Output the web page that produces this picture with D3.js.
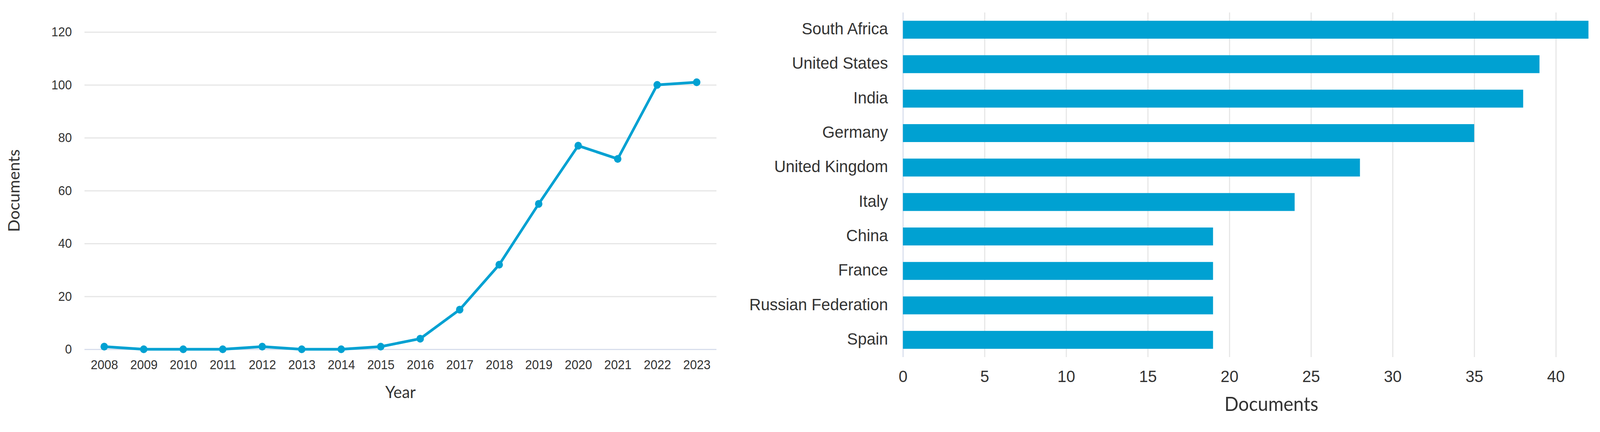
<!DOCTYPE html>
<html>
<head>
<meta charset="utf-8">
<script src="https://cdn.jsdelivr.net/npm/d3@7"></script>
<style>
	html, body { margin: 0; padding: 0; background: #fff; overflow: hidden; }
	svg { display: block; width: 100vw; height: 100vh; font-family: Lato, 'Open Sans', sans-serif; }
	.grid line { stroke: #e6e6e6; stroke-width: 3; }
	.axis text { fill: #333; }
</style>
</head>
<body>
<div id="chart"></div>
<script>
const years = ['2008', '2009', '2010', '2011', '2012', '2013', '2014', '2015',
	'2016', '2017', '2018', '2019', '2020', '2021', '2022', '2023'];
const yearDocs = [1, 0, 0, 0, 1, 0, 0, 1, 4, 15, 32, 55, 77, 72, 100, 101];
const yearTicks = [0, 20, 40, 60, 80, 100, 120];

const countries = ['South Africa', 'United States', 'India', 'Germany', 'United Kingdom',
	'Italy', 'China', 'France', 'Russian Federation', 'Spain'];
const countryDocs = [42, 39, 38, 35, 28, 24, 19, 19, 19, 19];
const countryTicks = [0, 5, 10, 15, 20, 25, 30, 35, 40];

const blue = '#00a1d2';
const W = 4299;
const H = 1107;

// drawn in a 4299x1107 box, stretched to whatever the window really is
const svg = d3.select('#chart').append('svg')
	.attr('viewBox', `0 0 ${W} ${H}`)
	.attr('preserveAspectRatio', 'none');

// left: documents per year
function drawLine() {
	const left = 227, right = 1925, top = 82, bottom = 895;

	const x = d3.scalePoint().domain(years).range([left, right]).padding(0.5);
	const y = d3.scaleLinear().domain([0, 120]).range([bottom, top]);

	const yAxis = d3.axisLeft(y)
		.tickValues(yearTicks)
		.tickSize(-(right - left))
		.tickPadding(34);

	const gy = svg.append('g')
		.attr('class', 'axis grid')
		.attr('transform', `translate(${left},0)`)
		.call(yAxis);
	gy.select('.domain').remove();
	gy.selectAll('text').attr('font-size', 33);
	gy.selectAll('.tick').filter((d) => d === 0)
		.select('line').style('stroke', '#d8deec');

	const xAxis = d3.axisBottom(x).tickSize(0).tickPadding(28);
	const gx = svg.append('g')
		.attr('class', 'axis')
		.attr('transform', `translate(0,${bottom})`)
		.call(xAxis);
	gx.select('.domain').remove();
	gx.selectAll('text').attr('font-size', 33);

	const line = d3.line()
		.x((d, i) => x(years[i]))
		.y((d) => y(d));

	svg.append('path')
		.datum(yearDocs)
		.attr('fill', 'none')
		.attr('stroke', blue)
		.attr('stroke-width', 7)
		.attr('stroke-linejoin', 'round')
		.attr('d', line);

	svg.selectAll('.dot')
		.data(yearDocs)
		.enter()
		.append('circle')
		.attr('class', 'dot')
		.attr('cx', (d, i) => x(years[i]))
		.attr('cy', (d) => y(d))
		.attr('r', 10)
		.attr('fill', blue);

	svg.append('text')
		.attr('x', (left + right) / 2)
		.attr('y', 1020)
		.attr('text-anchor', 'middle')
		.attr('font-size', 43)
		.attr('fill', '#333')
		.text('Year');

	svg.append('text')
		.attr('transform', `translate(53,${(top + bottom) / 2}) rotate(-90)`)
		.attr('text-anchor', 'middle')
		.attr('font-size', 42)
		.attr('fill', '#333')
		.text('Documents');
}

// right: documents per country
function drawBars() {
	const left = 2426, right = 4268, top = 32, bottom = 915;

	const x = d3.scaleLinear().domain([0, 42]).range([left, right]);
	const y = d3.scaleBand().domain(countries).range([top, bottom])
		.paddingInner(0.48).paddingOuter(0.24);

	const xAxis = d3.axisBottom(x)
		.tickValues(countryTicks)
		.tickSize(-(bottom - top))
		.tickPadding(33);

	const gx = svg.append('g')
		.attr('class', 'axis grid')
		.attr('transform', `translate(0,${bottom})`)
		.call(xAxis);
	gx.select('.domain').remove();
	gx.selectAll('text').attr('font-size', 43);
	gx.selectAll('.tick').filter((d) => d === 0)
		.select('line').style('stroke', '#d8deec');

	svg.selectAll('.bar')
		.data(countryDocs)
		.enter()
		.append('rect')
		.attr('class', 'bar')
		.attr('x', x(0))
		.attr('y', (d, i) => y(countries[i]))
		.attr('width', (d) => x(d) - x(0))
		.attr('height', y.bandwidth())
		.attr('fill', blue);

	const yAxis = d3.axisLeft(y).tickSize(0).tickPadding(40);
	const gy = svg.append('g')
		.attr('class', 'axis')
		.attr('transform', `translate(${left},0)`)
		.call(yAxis);
	gy.select('.domain').remove();
	gy.selectAll('text').attr('font-size', 43).attr('dy', '0.28em');

	svg.append('text')
		.attr('x', 3416)
		.attr('y', 1053)
		.attr('text-anchor', 'middle')
		.attr('font-size', 50)
		.attr('fill', '#333')
		.text('Documents');
}

drawLine();
drawBars();
</script>
</body>
</html>
